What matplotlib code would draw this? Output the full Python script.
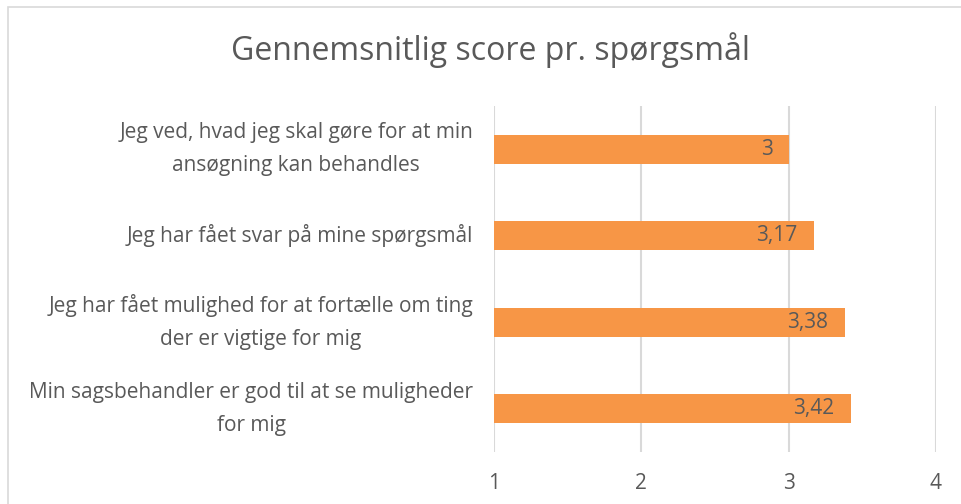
import matplotlib
matplotlib.use("Agg")
import matplotlib.pyplot as plt
from matplotlib.patches import Rectangle

categories = [
    "Jeg ved, hvad jeg skal gøre for at min\nansøgning kan behandles",
    "Jeg har fået svar på mine spørgsmål",
    "Jeg har fået mulighed for at fortælle om ting\nder er vigtige for mig",
    "Min sagsbehandler er god til at se muligheder\nfor mig",
]
values = [3.0, 3.17, 3.38, 3.42]
value_labels = ["3", "3,17", "3,38", "3,42"]
xticks = [1, 2, 3, 4]
xtick_labels = ["1", "2", "3", "4"]
title = "Gennemsnitlig score pr. spørgsmål"

TEXT = "#595959"
BAR = "#F79646"
GRID = "#D9D9D9"
FONT = ["Open Sans", "DejaVu Sans"]

plt.rcParams["font.family"] = FONT

fig = plt.figure(figsize=(9.62, 5.04), dpi=100)
fig.patches.append(Rectangle((8 / 962, -0.05), 1.1, 1 - 7 / 504 + 0.05,
                             transform=fig.transFigure, fill=False,
                             edgecolor=GRID, linewidth=1.2))

ax = fig.add_axes([494 / 962, 1 - 452 / 504, (936 - 494) / 962, (452 - 106) / 504])

ypos = list(range(len(categories)))
left = xticks[0]
ax.barh(ypos, [v - left for v in values], left=left, height=0.33,
        color=BAR, zorder=3)
for y, v, lab in zip(ypos, values, value_labels):
    ax.text(v - 0.11, y, lab, ha="right", va="center", color=TEXT,
            fontsize=15, zorder=4)

ax.set_xlim(xticks[0], xticks[-1])
ax.set_ylim(len(categories) - 0.5, -0.5)
ax.set_xticks(xticks)
ax.set_xticklabels(xtick_labels)
ax.set_yticks(ypos)
ax.set_yticklabels(categories, multialignment="center", linespacing=1.78)
for lbl in ax.get_yticklabels():
    lbl.set_verticalalignment("center")
ax.tick_params(axis="both", length=0, colors=TEXT, labelsize=15)
ax.tick_params(axis="y", pad=15)
ax.tick_params(axis="x", pad=15)
for s in ax.spines.values():
    s.set_visible(False)
ax.xaxis.grid(True, color=GRID, linewidth=1.5, zorder=0)
ax.set_axisbelow(True)

fig.text(491 / 962, 1 - 50 / 504, title, ha="center", va="center",
         color=TEXT, fontsize=23)

fig.savefig("out.png", dpi=100)
